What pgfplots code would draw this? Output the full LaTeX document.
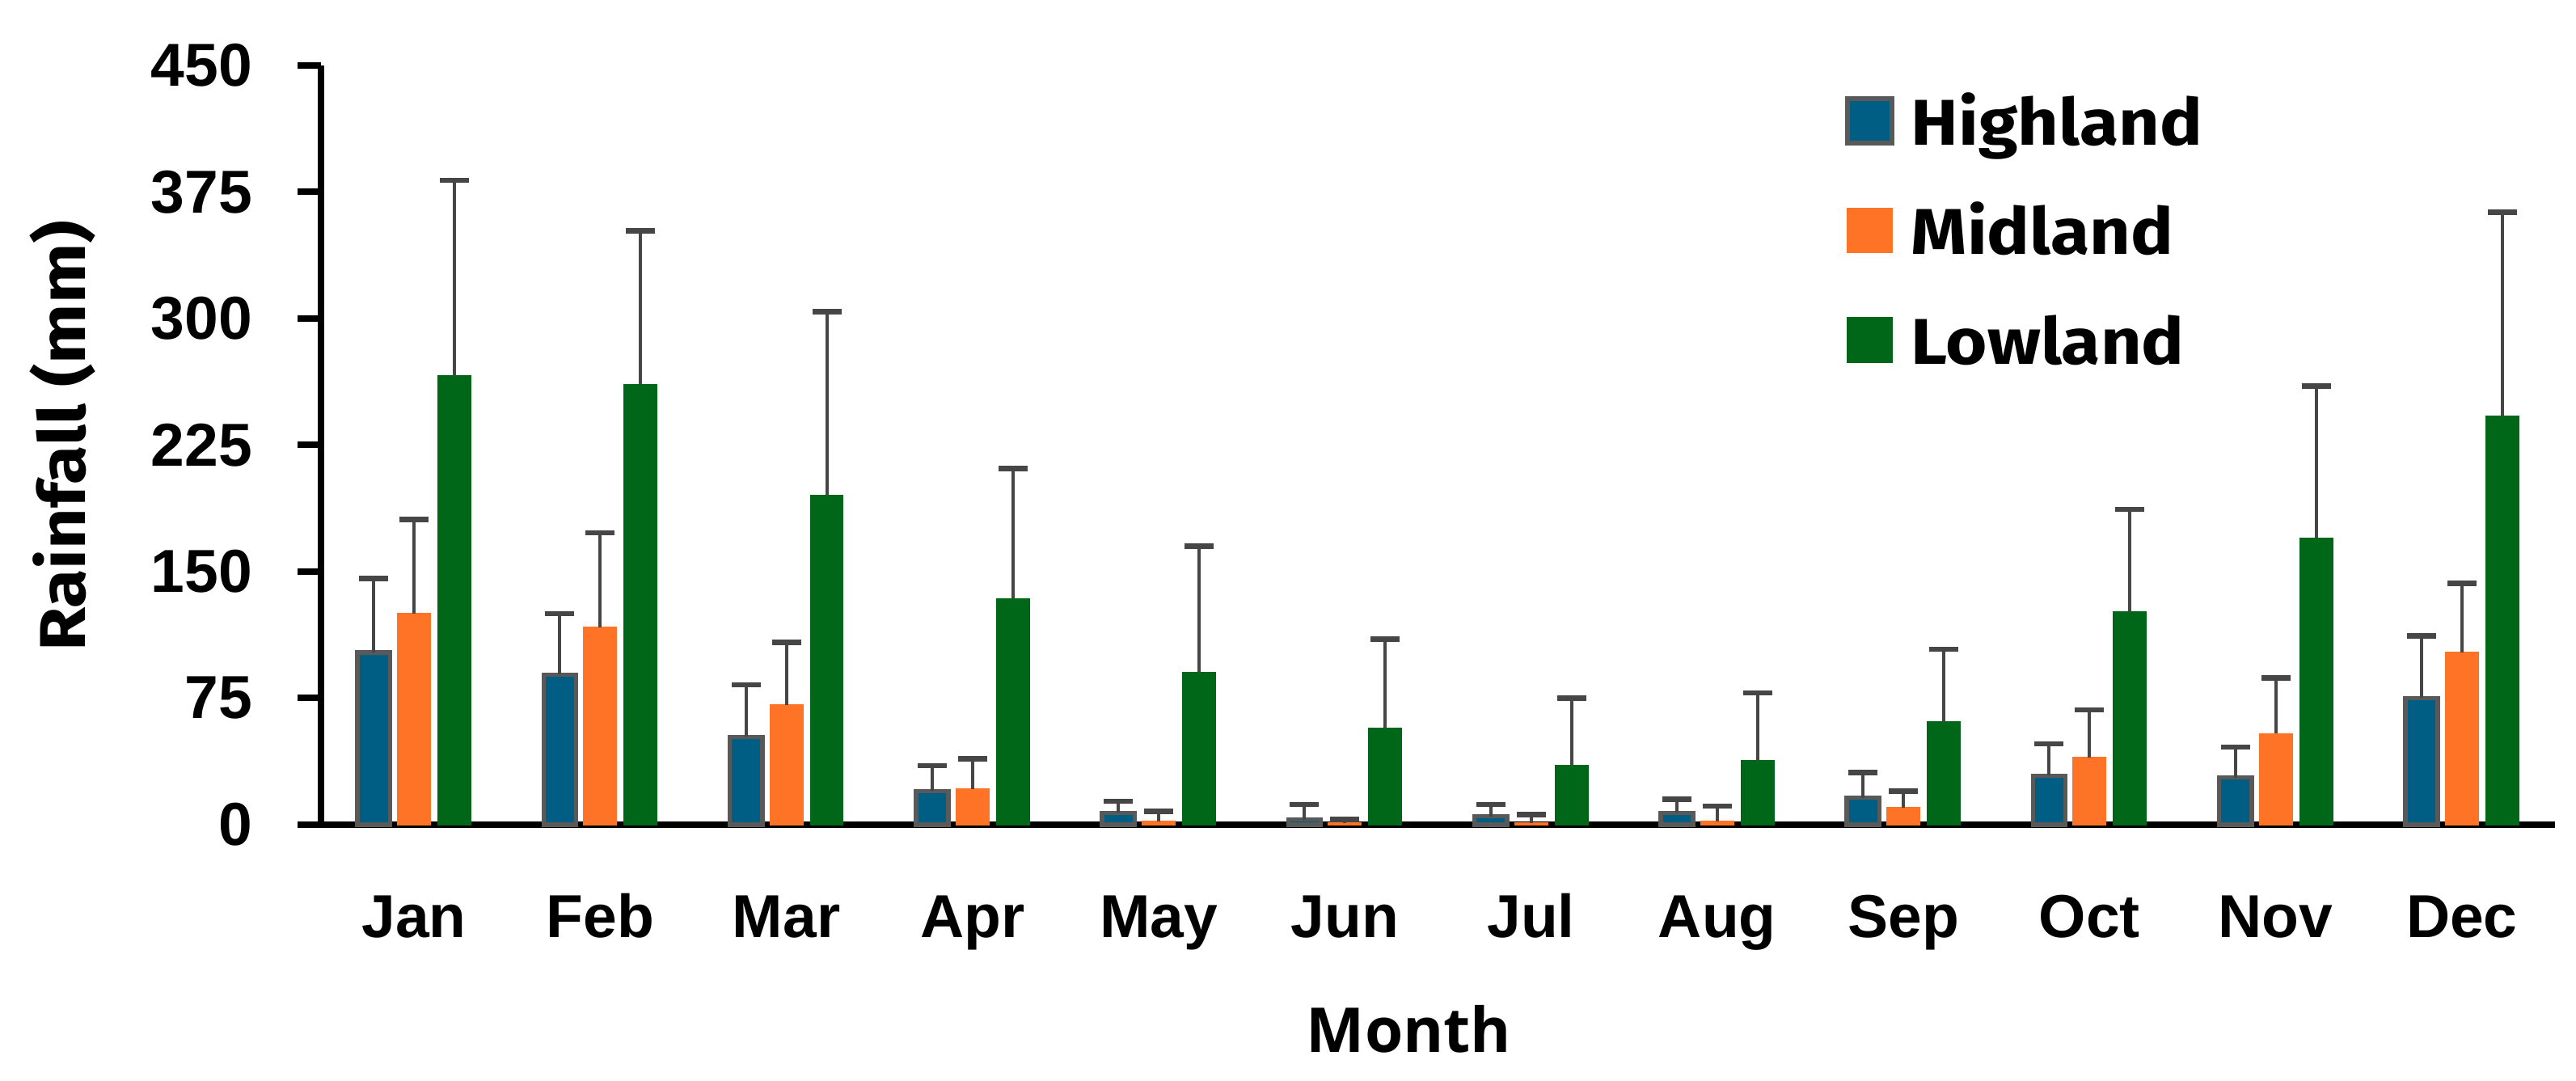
\documentclass[border=0pt]{standalone}
\usepackage{fontspec}
\setmainfont{Liberation Sans}
\newfontfamily\firafont[FakeStretch=1.1]{Fira Sans}
\newfontfamily\opensans{Open Sans}
\usepackage{pgfplots}
\usepackage{pgfplotstable}
\pgfplotsset{compat=1.18}

\definecolor{hblue}{RGB}{0,94,133}
\definecolor{morange}{RGB}{255,115,38}
\definecolor{lgreen}{RGB}{0,102,24}
\definecolor{bgray}{RGB}{89,89,89}
\definecolor{egray}{RGB}{70,70,70}

\pgfplotstableread{
x  H   Hp  M   Mp  L   Lp
0  102 44  125 56  266 116
1  89  36  117 56  261 91
2  52  31  71  37  195 109
3  20  15  21  18  134 77
4  7   7   2   6   90  75
5  3   9   1   2   57  53
6  5   7   1   5   35  40
7  7   8   2   9   38  40
8  16  15  10  10  61  43
9  29  19  40  28  126 61
10 28  18  54  33  170 90
11 75  37  102 41  242 121
}\rain

\pgfplotsset{
  sqlegend/.style={legend image code/.code={\draw[##1] (0pt,-5.5pt) rectangle (11pt,5.5pt); \path (15.2pt,0pt);}},
  errstyle/.style={
    error bars/.cd, y dir=plus, y explicit,
    error bar style={line width=0.8pt, draw=egray, solid},
    error mark options={rotate=90, mark size=3.6pt, line width=1.3pt, draw=egray}
  }
}

\begin{document}
\begin{tikzpicture}
\begin{axis}[
  at={(0,0)}, anchor=south west,
  scale only axis,
  width=552.6pt, height=187.8pt,
  ybar, bar width=0.175,
  xmin=-0.5, xmax=11.5,
  ymin=0, ymax=450,
  ytick={0,75,...,450},
  xtick={0,...,11},
  xticklabels={Jan,Feb,Mar,Apr,May,Jun,Jul,Aug,Sep,Oct,Nov,Dec},
  axis x line*=bottom, axis y line*=left,
  axis line style={line width=1.6pt, black},
  xtick style={draw=none},
  ytick style={line width=1.6pt, black},
  ytick align=outside, xtick align=inside,
  major tick length=5.8pt,
  /pgf/number format/assume math mode=true,
  yticklabel style={font=\fontsize{15}{18}\selectfont\bfseries, anchor=east, inner sep=0pt, xshift=-11pt},
  xticklabel style={font=\fontsize{15}{18}\selectfont\bfseries, anchor=base, inner sep=0pt, yshift=-28pt},
  xlabel={Month},
  ylabel={Rainfall (mm)},
  every axis x label/.style={at={(axis description cs:0.487,0)}, anchor=base, yshift=-56.4pt, font=\fontsize{15.3}{18}\selectfont\opensans\bfseries},
  every axis y label/.style={at={(axis description cs:-0.1155,0.512)}, rotate=90, anchor=center, font=\fontsize{16}{19}\selectfont\firafont\bfseries},
  legend style={at={(axis description cs:0.682,0.9675)}, anchor=north west, draw=none, fill=none,
    font=\fontsize{16}{19}\selectfont\firafont\bfseries, inner sep=0pt, row sep=12.3pt,
    nodes={inner sep=0pt}},
  legend cell align=left,
  clip=false,
]
\addplot[fill=hblue, draw=bgray, line width=1.1pt, bar shift=-0.217, sqlegend, errstyle]
  table[x=x, y=H, y error=Hp] {\rain};
\addlegendentry{\strut Highland}
\addplot[fill=morange, draw=morange, line width=0.3pt, bar shift=0, sqlegend, errstyle]
  table[x=x, y=M, y error=Mp] {\rain};
\addlegendentry{\strut Midland}
\addplot[fill=lgreen, draw=lgreen, line width=0.3pt, bar shift=0.217, sqlegend, errstyle]
  table[x=x, y=L, y error=Lp] {\rain};
\addlegendentry{\strut Lowland}
\end{axis}
\pgfresetboundingbox
\path (-79.4pt,-63.4pt) rectangle (557.8pt,204pt);
\end{tikzpicture}
\end{document}
